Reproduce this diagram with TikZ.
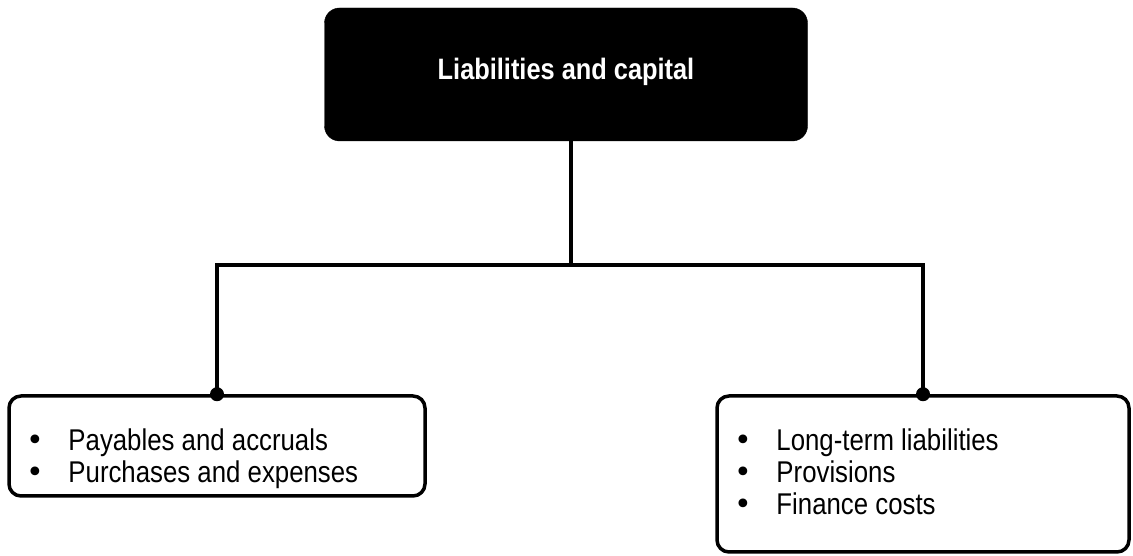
\documentclass[tikz,border=0pt]{standalone}
\usepackage{fontspec}
\setmainfont{Liberation Sans}
\newfontfamily\narrowfont{Liberation Sans}[FakeStretch=0.86]
\newfontfamily\bulletfont{DejaVu Sans}
\usepackage{tikz}
\usetikzlibrary{positioning}
\definecolor{inkblack}{HTML}{000000}
\newcommand{\listitem}[1]{\strut\makebox[0pt][r]{{\bulletfont\fontsize{30}{31}\selectfont •}\hspace{24pt}}#1}
\tikzset{
  headbox/.style={
    rectangle, rounded corners=15pt, draw=inkblack, fill=inkblack,
    minimum width=483pt, minimum height=133pt, text=white,
    text depth=12pt, font=\narrowfont\fontsize{29.5}{31}\selectfont\bfseries
  },
  listbox/.style={
    rectangle, rounded corners=12pt, draw=inkblack, line width=3.5pt,
    fill=white
  },
  listtext/.style={
    inner sep=0pt, align=left, anchor=north west,
    font=\narrowfont\fontsize{30}{31}\selectfont
  },
  linkline/.style={line width=3.5pt, color=inkblack},
  joindot/.style={fill=inkblack}
}
\begin{document}
\begin{tikzpicture}[x=1pt, y=1pt]
  \useasboundingbox (0,0) rectangle (1133,556);
  \node[headbox] (head) at (566,481.5) {Liabilities and capital};
  \node[listbox, minimum width=416pt, minimum height=100pt] (leftbox) at (217,110) {};
  \node[listbox, minimum width=412pt, minimum height=156pt] (rightbox) at (923,82) {};
  \node[listtext] (leftlist) at ([shift={(61,-34.3)}]leftbox.north west)
    {\listitem{Payables and accruals}\\ \listitem{Purchases and expenses}};
  \node[listtext] (rightlist) at ([shift={(61,-34.3)}]rightbox.north west)
    {\listitem{Long-term liabilities}\\ \listitem{Provisions}\\ \listitem{Finance costs}};
  \coordinate (split) at (571,291);
  \draw[linkline] (head.south -| split) -- (split);
  \draw[linkline] (leftbox.north) |- (split) -| (rightbox.north);
  \foreach \b in {leftbox,rightbox}
    \fill[joindot] (\b.north) circle (7);
\end{tikzpicture}
\end{document}
